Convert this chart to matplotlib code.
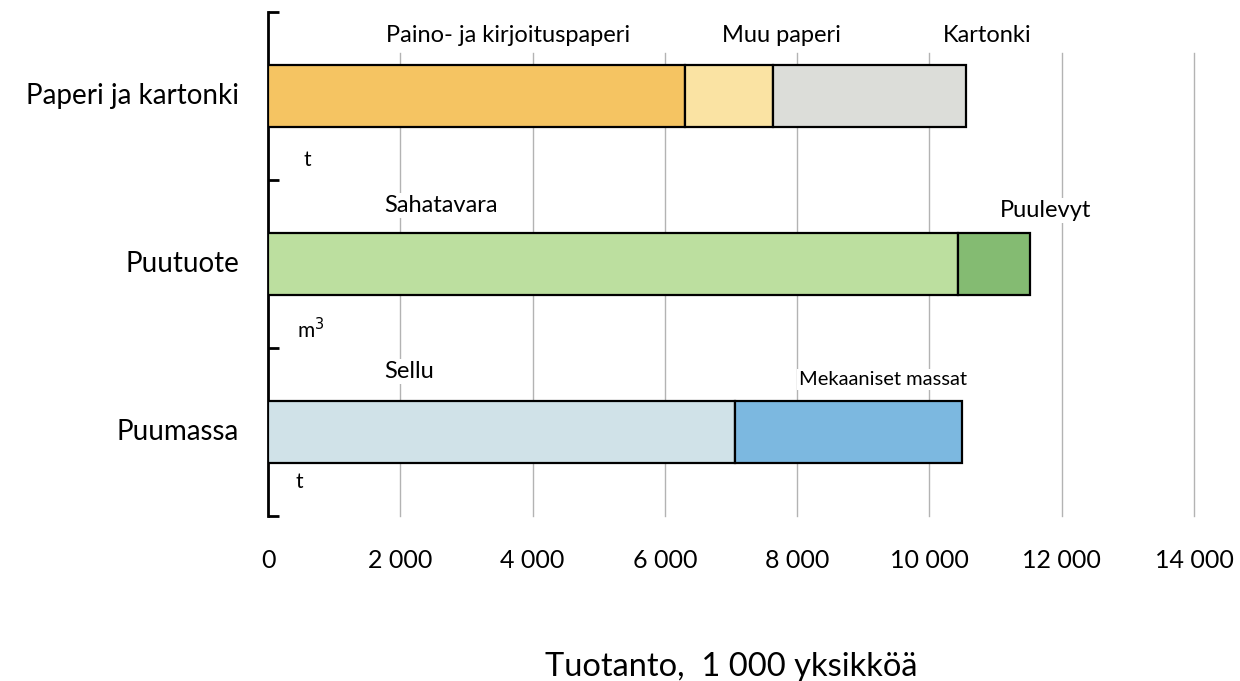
import matplotlib
matplotlib.use("Agg")
import matplotlib.pyplot as plt

plt.rcParams['font.family'] = ['Lato', 'DejaVu Sans']

# tuotteet (alhaalta ylös)
ryhmat = ['Puumassa', 'Puutuote', 'Paperi ja kartonki']

# osat, 1 000 yksikköä
paperi_osat = ['Paino- ja kirjoituspaperi', 'Muu paperi', 'Kartonki']
paperi_arvot = [6300, 1330, 2930]
paperi_varit = ['#F5C462', '#FAE3A3', '#DCDDD9']

puu_osat = ['Sahatavara', 'Puulevyt']
puu_arvot = [10430, 1090]
puu_varit = ['#BCDF9F', '#84BB72']

massa_osat = ['Sellu', 'Mekaaniset massat']
massa_arvot = [7060, 3430]
massa_varit = ['#D0E2E8', '#7CB8E0']

yksikot = ['t', 'm$^3$', 't']
xtikit = [0, 2000, 4000, 6000, 8000, 10000, 12000, 14000]

fig = plt.figure(figsize=(12.4, 6.81), dpi=100)
ax = fig.add_axes([268/1240, 1-516/681, (1194-268)/1240, 504/681])

def pinottu(y, arvot, varit):
    vasen = 0
    for a, c in zip(arvot, varit):
        ax.barh(y, a, left=vasen, height=0.37, color=c, edgecolor='black',
                linewidth=1.6, zorder=3)
        vasen += a

pinottu(2.5, paperi_arvot, paperi_varit)
pinottu(1.5, puu_arvot, puu_varit)
pinottu(0.5, massa_arvot, massa_varit)

# pystyviivat
for x in xtikit[1:]:
    ax.axvline(x, ymin=0, ymax=0.918, color='#B3B3B3', linewidth=1,
               zorder=1, clip_on=False)

ax.set_xlim(0, 14000)
ax.set_ylim(0, 3)

ax.set_xticks(xtikit)
ax.set_xticklabels([f'{v:,}'.replace(',', ' ') for v in xtikit], fontsize=18)
ax.tick_params(axis='x', length=0, pad=24)

ax.set_yticks([0, 1, 2, 3])
ax.set_yticklabels([])
ax.tick_params(axis='y', direction='in', length=8, width=2)
for y, nimi in zip([0.5, 1.5, 2.5], ryhmat):
    ax.text(-440, y, nimi, ha='right', va='center', fontsize=20)

for s in ['top', 'right', 'bottom']:
    ax.spines[s].set_visible(False)
ax.spines['left'].set_linewidth(2)

# osien nimet
bb = dict(facecolor='white', edgecolor='none', pad=1.5)
kw = dict(ha='center', va='center', fontsize=17, zorder=4, bbox=bb)
ax.text(3630, 2.86, paperi_osat[0], **kw)
ax.text(7770, 2.86, paperi_osat[1], **kw)
ax.text(10870, 2.86, paperi_osat[2], **kw)
ax.text(2620, 1.85, puu_osat[0], **kw)
ax.text(11760, 1.82, puu_osat[1], **kw)
ax.text(2130, 0.86, massa_osat[0], **kw)
kw['fontsize'] = 14.5
ax.text(9300, 0.81, massa_osat[1], **kw)

# yksiköt
ax.text(590, 2.12, yksikot[0], ha='center', va='center', fontsize=15)
ax.text(640, 1.11, yksikot[1], ha='center', va='center', fontsize=15)
ax.text(480, 0.2, yksikot[2], ha='center', va='center', fontsize=15)

ax.set_xlabel('Tuotanto,  1 000 yksikköä', fontsize=23.5, labelpad=57)

fig.savefig('out.png', dpi=100)
